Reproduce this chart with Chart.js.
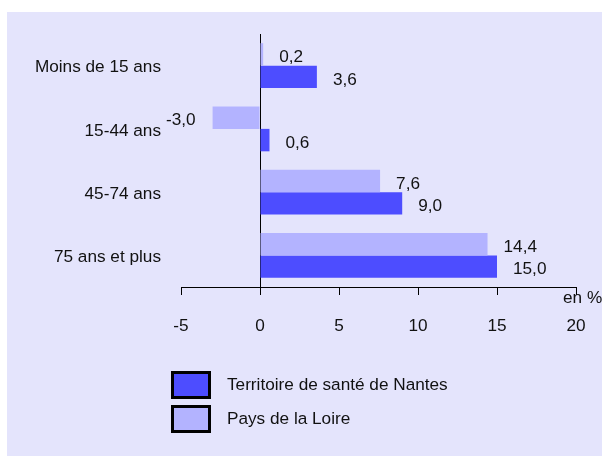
<!DOCTYPE html>
<html>
<head>
<meta charset="utf-8">
<script src="https://cdn.jsdelivr.net/npm/chart.js@4/dist/chart.umd.min.js"></script>
<style>
  html, body { margin: 0; padding: 0; background: #ffffff; }
  #c { display: block; }
</style>
</head>
<body>
<canvas id="c" width="602" height="456"></canvas>
<script>
// ---- Data ----
const categories = ['Moins de 15 ans', '15-44 ans', '45-74 ans', '75 ans et plus'];
const nantesValues = [3.6, 0.6, 9.0, 15.0];
const paysLoireValues = [0.2, -3.0, 7.6, 14.4];
const seriesNames = ['Territoire de santé de Nantes', 'Pays de la Loire'];
const xTickValues = [-5, 0, 5, 10, 15, 20];
const axisUnit = 'en %';

// ---- Styles ----
const FONT = "'Liberation Sans', Arial, Helvetica, sans-serif";
const FSIZE = 17.2;
const DARK = '#4d4dff';
const LIGHT = '#b3b3ff';
const PANEL = '#e4e4fc';
const TEXT = '#111111';

const fmt = v => v.toFixed(1).replace('.', ',');

const backgroundPlugin = {
  id: 'panelBg',
  beforeDraw(chart) {
    const ctx = chart.ctx;
    ctx.save();
    ctx.fillStyle = '#ffffff';
    ctx.fillRect(0, 0, chart.width, chart.height);
    ctx.fillStyle = PANEL;
    ctx.fillRect(7, 12, chart.width - 7, chart.height - 12);
    ctx.restore();
  }
};

const valueLabelPlugin = {
  id: 'valueLabels',
  afterDatasetsDraw(chart) {
    const ctx = chart.ctx;
    ctx.save();
    ctx.font = FSIZE + 'px ' + FONT;
    ctx.fillStyle = TEXT;
    ctx.textBaseline = 'middle';
    chart.data.datasets.forEach((ds, di) => {
      const meta = chart.getDatasetMeta(di);
      meta.data.forEach((el, i) => {
        const v = ds.data[i];
        if (v >= 0) {
          ctx.textAlign = 'left';
          ctx.fillText(fmt(v), el.x + 16, el.y + 3);
        } else {
          ctx.textAlign = 'right';
          ctx.fillText(fmt(v), el.x - 17, el.y + 3);
        }
      });
    });
    const a = chart.chartArea;
    ctx.textAlign = 'left';
    ctx.fillText(axisUnit, a.right - 13, a.bottom + 11);
    ctx.restore();
  }
};

const legendPlugin = {
  id: 'customLegend',
  afterDraw(chart) {
    const ctx = chart.ctx;
    ctx.save();
    const items = chart.data.datasets.slice().reverse();
    items.forEach((ds, k) => {
      const x = 172, y = 372 + k * 34, w = 38, h = 26;
      ctx.fillStyle = ds.backgroundColor;
      ctx.fillRect(x, y, w, h);
      ctx.strokeStyle = '#000000';
      ctx.lineWidth = 3;
      ctx.strokeRect(x + 0.5, y + 0.5, w - 1, h - 1);
      ctx.fillStyle = TEXT;
      ctx.font = FSIZE + 'px ' + FONT;
      ctx.textAlign = 'left';
      ctx.textBaseline = 'middle';
      ctx.fillText(ds.label, 227, y + h / 2);
    });
    ctx.restore();
  }
};

new Chart(document.getElementById('c'), {
  type: 'bar',
  data: {
    labels: categories,
    datasets: [
      { label: seriesNames[1], data: paysLoireValues, backgroundColor: LIGHT, borderWidth: 0 },
      { label: seriesNames[0], data: nantesValues, backgroundColor: DARK, borderWidth: 0 }
    ]
  },
  options: {
    indexAxis: 'y',
    responsive: false,
    devicePixelRatio: 1,
    animation: false,
    layout: { padding: { left: 0, right: 26, top: 34, bottom: 109 } },
    categoryPercentage: 0.71,
    barPercentage: 1.0,
    plugins: {
      legend: { display: false },
      title: { display: false },
      tooltip: { enabled: false }
    },
    scales: {
      x: {
        type: 'linear',
        min: xTickValues[0],
        max: xTickValues[xTickValues.length - 1],
        afterBuildTicks(scale) { scale.ticks = xTickValues.map(v => ({ value: v })); },
        afterFit(scale) { scale.height = 60; scale.paddingRight = 10; scale.paddingLeft = 10; },
        border: { display: true, color: '#000000', width: 1 },
        grid: {
          drawOnChartArea: true,
          drawTicks: true,
          tickLength: 8,
          color: ctx => (ctx.tick && ctx.tick.value === 0 ? '#000000' : 'rgba(0,0,0,0)'),
          tickColor: '#000000',
          lineWidth: 1
        },
        ticks: {
          padding: 21,
          color: TEXT,
          font: { family: FONT, size: FSIZE },
          callback: v => String(v)
        }
      },
      y: {
        afterFit(scale) { scale.width = 181; },
        border: { display: false },
        grid: { display: false, drawTicks: false },
        ticks: {
          padding: 20,
          labelOffset: 2,
          color: TEXT,
          font: { family: FONT, size: FSIZE }
        }
      }
    }
  },
  plugins: [backgroundPlugin, valueLabelPlugin, legendPlugin]
});
</script>
</body>
</html>
